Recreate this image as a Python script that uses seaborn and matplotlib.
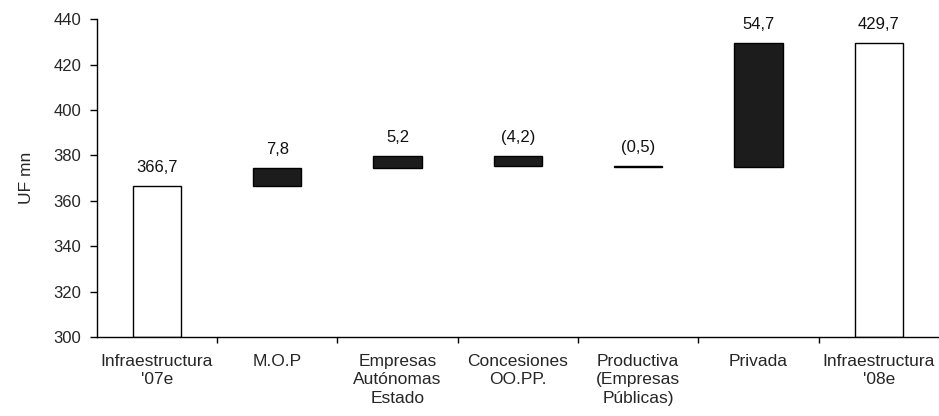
import matplotlib
matplotlib.use("Agg")
import matplotlib.pyplot as plt
import seaborn as sns
import numpy as np
import pandas as pd

categories = ["Infraestructura\n'07e", "M.O.P", "Empresas\nAutónomas\nEstado",
              "Concesiones\nOO.PP.", "Productiva\n(Empresas\nPúblicas)", "Privada",
              "Infraestructura\n'08e"]
changes = [366.7, 7.8, 5.2, -4.2, -0.5, 54.7, 429.7]
is_total = [True, False, False, False, False, False, True]
value_labels = ["366,7", "7,8", "5,2", "(4,2)", "(0,5)", "54,7", "429,7"]
y_ticks = [300, 320, 340, 360, 380, 400, 420, 440]

# waterfall bases
axis_min = 300
bases, heights, tops = [], [], []
running = 0.0
for v, tot in zip(changes, is_total):
    if tot:
        bases.append(axis_min)
        heights.append(v - axis_min)
        running = v
        tops.append(v)
    else:
        if v >= 0:
            bases.append(running)
            heights.append(v)
            tops.append(running + v)
        else:
            bases.append(running + v)
            heights.append(-v)
            tops.append(running)
        running += v

df = pd.DataFrame({"cat": categories, "h": heights})

sns.set_style("white")
plt.rcParams["font.family"] = ["Liberation Sans", "DejaVu Sans"]

fig = plt.figure(figsize=(9.39, 4.16), dpi=100)
ax = fig.add_axes([0.103, 0.19, 0.897, 0.764])

sns.barplot(data=df, x="cat", y="h", bottom=np.array(bases), width=0.4,
            color="#1a1a1a", edgecolor="black", linewidth=1.0, ax=ax, saturation=1)

for p, tot in zip(ax.patches, is_total):
    if tot:
        p.set_facecolor("white")
        p.set_edgecolor("black")
        p.set_linewidth(1.0)
    else:
        p.set_facecolor("#1c1c1c")

for i, (t, lab) in enumerate(zip(tops, value_labels)):
    ax.annotate(lab, (i, t), xytext=(0, 10), textcoords="offset points",
                ha="center", va="baseline", fontsize=12, color="#111111")

ax.set_ylim(300, 440)
ax.set_xlim(-0.5, 6.5)
ax.set_yticks(y_ticks)
ax.set_yticklabels([str(v) for v in y_ticks], fontsize=12)
ax.set_xticks(range(len(categories)))
ax.set_xticklabels(categories, fontsize=12.5, linespacing=1.3)
ax.set_xticks(np.arange(0.5, 6.5, 1.0), minor=True)
ax.tick_params(axis="x", which="major", length=0, pad=12)
ax.tick_params(axis="x", which="minor", length=4, width=1, direction="out", bottom=True, color="black")
ax.tick_params(axis="y", length=5, width=1, direction="out", left=True, color="black", pad=6)
ax.set_xlabel("")
ax.set_ylabel("UF mn", fontsize=12.5, labelpad=14)

for s in ["top", "right"]:
    ax.spines[s].set_visible(False)
for s in ["left", "bottom"]:
    ax.spines[s].set_color("black")
    ax.spines[s].set_linewidth(1.0)

fig.savefig("out.png", dpi=100, facecolor="white")
